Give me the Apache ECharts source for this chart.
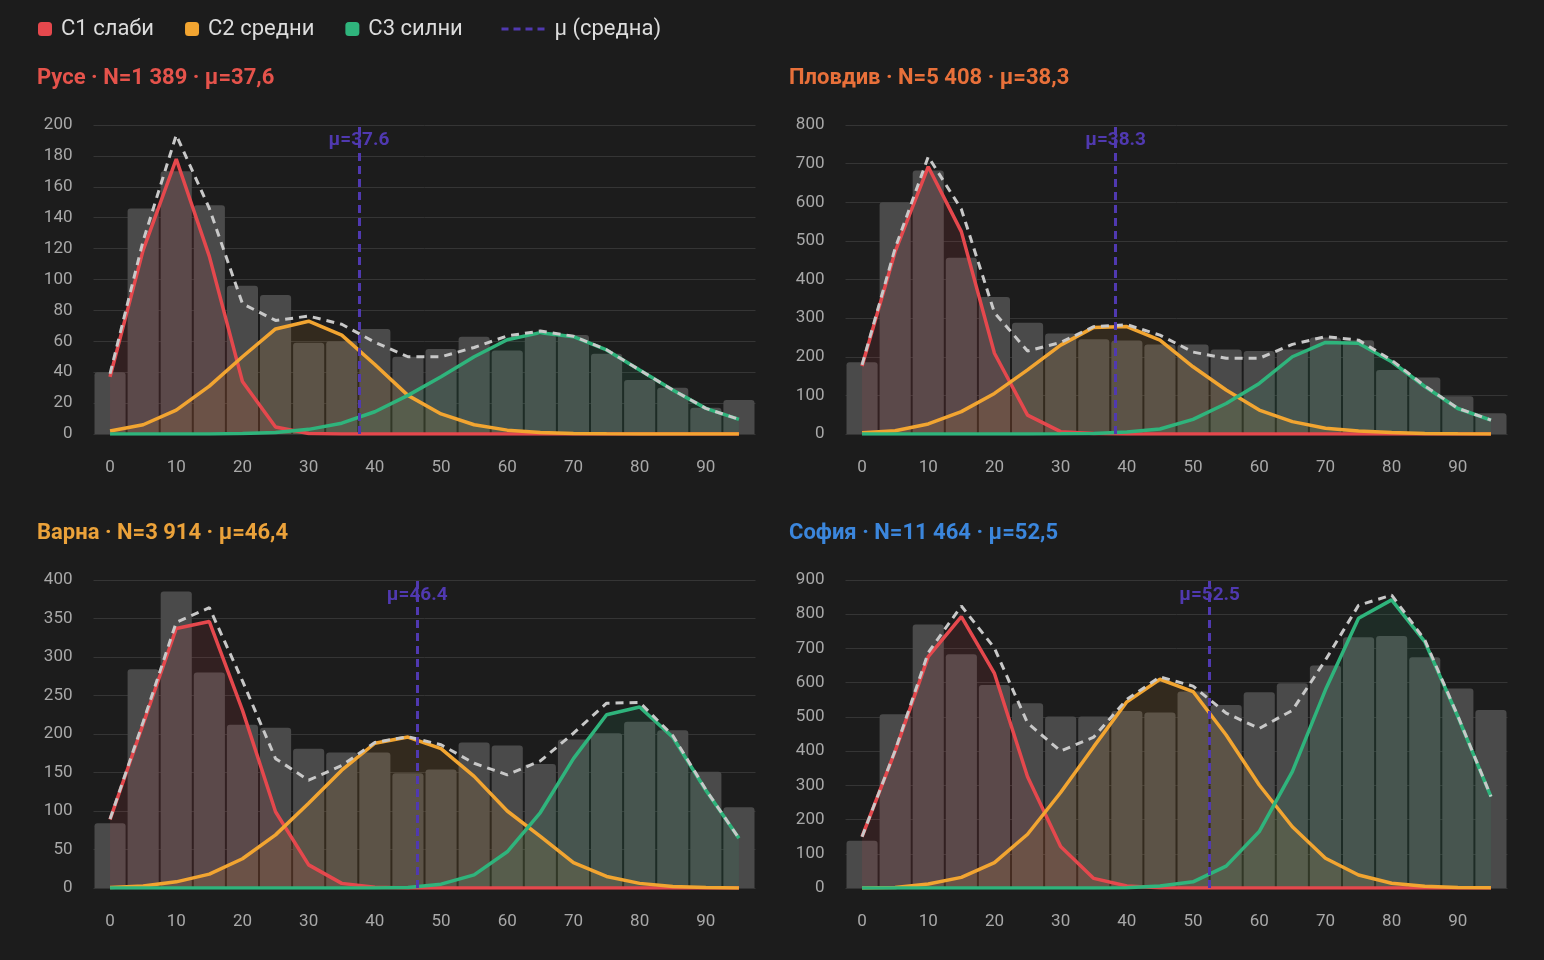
<!DOCTYPE html>
<html>
<head>
<meta charset="utf-8">
<script src="https://cdn.jsdelivr.net/npm/echarts@6/dist/echarts.min.js"></script>
<style>
  html, body { margin: 0; padding: 0; background: #1c1c1c; }
  #main { width: 1544px; height: 960px; }
</style>
</head>
<body>
<div id="main"></div>
<script>
// bins 0..95 step 5
var bins = ['0','5','10','15','20','25','30','35','40','45','50','55','60','65','70','75','80','85','90','95'];

// Русе
var ruseBars  = [40,146,170,148,96,90,59,60,68,50,55,63,54,64,64,52,35,30,17,22];
var ruseC1    = [37,119,178,115,34,4.5,0.3,0,0,0,0,0,0,0,0,0,0,0,0,0];
var ruseC2    = [2,6,15.5,31,50,68,73,64,45,25,13,6,2.5,1,0.3,0.1,0,0,0,0];
var ruseC3    = [0,0,0,0,0.3,1,3,7,14.4,25,37,50,61,65.6,63,54.4,41.4,28.5,16.6,9.5];
var ruseTotal = [39,125,193.5,146,84.3,73.5,76.3,71,59.4,50,50,56,63.5,66.6,63.3,54.5,41.4,28.5,16.6,9.5];

// Пловдив
var plovBars  = [186,600,682,456,355,288,260,245,242,232,232,219,215,219,250,243,166,146,98,54];
var plovC1    = [176,472,692,524,209,49,6,1,0,0,0,0,0,0,0,0,0,0,0,0];
var plovC2    = [3.4,8.6,26,58,105,166,230,276,278,243,174,114,62,32,15,8,4,1.5,0.5,0];
var plovC3    = [0,0,0,0,0,0,0.5,1.5,5,13,38,79,131,200,237,235,187,123,66,36];
var plovTotal = [179,481,718,582,314,215,237,278,283,256,212,196,196,232,252,243,191,124.5,66.5,36];

// Варна
var varnaBars  = [84,284,385,280,212,208,181,176,176,149,154,189,185,161,193,201,216,205,151,105];
var varnaC1    = [89,213,337,346,231,99,30,6,1,0,0,0,0,0,0,0,0,0,0,0];
var varnaC2    = [0.5,2.6,8,18,38,69,110,153,188,196,181,145,100,67,33,15,6,2,0.7,0];
var varnaC3    = [0,0,0,0,0,0,0,0,0,0.5,5,17,47,98,168,225,235,196,127,64.5];
var varnaTotal = [89.5,215.6,345,364,269,168,140,159,189,196.5,186,162,147,165,201,240,241,198,127.7,64.5];

// София
var sofiaBars  = [138,508,770,683,593,540,501,501,517,513,574,535,572,598,650,733,736,674,583,520];
var sofiaC1    = [150,400,676,793,627,325,121,28,6,1,0,0,0,0,0,0,0,0,0,0];
var sofiaC2    = [0,1.5,11.7,31,74,157,279,413,544,610,574,447,301,179,87,38,14,5,1.5,0.5];
var sofiaC3    = [0,0,0,0,0,0,0,0,1,6,18,64,165,340,579,788,842,720,501,267];
var sofiaTotal = [150,401.5,688,824,701,482,400,441,551,617,590,511,466,519,666,826,856,725,502.5,267.5];

var panels = [
  {name: 'Русе · N=1 389 · μ=37,6',    color: '#e5534b', mu: 37.6, yMax: 200, yStep: 20,  bars: ruseBars,  c1: ruseC1,  c2: ruseC2,  c3: ruseC3,  total: ruseTotal},
  {name: 'Пловдив · N=5 408 · μ=38,3', color: '#e8703a', mu: 38.3, yMax: 800, yStep: 100, bars: plovBars,  c1: plovC1,  c2: plovC2,  c3: plovC3,  total: plovTotal},
  {name: 'Варна · N=3 914 · μ=46,4',   color: '#eba23a', mu: 46.4, yMax: 400, yStep: 50,  bars: varnaBars, c1: varnaC1, c2: varnaC2, c3: varnaC3, total: varnaTotal},
  {name: 'София · N=11 464 · μ=52,5',  color: '#3b86dc', mu: 52.5, yMax: 900, yStep: 100, bars: sofiaBars, c1: sofiaC1, c2: sofiaC2, c3: sofiaC3, total: sofiaTotal}
];

var comps = [
  {name: 'C1 слаби',  key: 'c1', color: '#e5484d', area: 'rgba(229,72,77,0.16)'},
  {name: 'C2 средни', key: 'c2', color: '#f2a531', area: 'rgba(242,165,49,0.15)'},
  {name: 'C3 силни',  key: 'c3', color: '#2fb47c', area: 'rgba(47,180,124,0.15)'}
];
var muColor = '#5039b0';
var font = 'Roboto';

var chart = echarts.init(document.getElementById('main'));
var option = {
  backgroundColor: '#1c1c1c',
  animation: false,
  textStyle: {fontFamily: font},
  title: [],
  legend: [
    {
      left: 33, top: 13,
      itemWidth: 14, itemHeight: 14, itemGap: 31,
      data: comps.map(function(c) { return {name: c.name, icon: 'roundRect'}; }),
      textStyle: {color: '#dcdcdc', fontSize: 22, fontFamily: font, padding: [0, 0, 0, 4]}
    },
    {
      left: 495, top: 13,
      itemWidth: 44, itemHeight: 14,
      data: [{name: 'μ (средна)', itemStyle: {opacity: 0}, lineStyle: {width: 3, type: [7, 5], color: muColor}}],
      textStyle: {color: '#dcdcdc', fontSize: 22, fontFamily: font, padding: [0, 0, 0, 4]}
    }
  ],
  grid: [], xAxis: [], yAxis: [], series: []
};

panels.forEach(function(p, g) {
  var left = g % 2 ? 845.5 : 93.5;
  var top = g < 2 ? 125 : 580;
  option.title.push({
    text: p.name, left: left - 56.5, top: top - 58, padding: 0,
    textStyle: {color: p.color, fontSize: 22, fontWeight: 'bold', fontFamily: font}
  });
  option.grid.push({left: left, top: top, width: 662, height: g < 2 ? 309 : 308});
  option.xAxis.push({
    type: 'category', gridIndex: g, data: bins,
    axisLine: {show: false}, axisTick: {show: false},
    axisLabel: {interval: 1, color: '#a8a8a8', fontSize: 17, margin: 25, fontFamily: font},
    splitLine: {show: false}
  });
  option.yAxis.push({
    type: 'value', gridIndex: g, min: 0, max: p.yMax, interval: p.yStep,
    axisLine: {show: false},
    axisTick: {show: true, length: 13, lineStyle: {color: '#353535'}},
    axisLabel: {color: '#a8a8a8', fontSize: 17, margin: 21, fontFamily: font},
    splitLine: {lineStyle: {color: '#353535', width: 1}}
  });

  option.series.push({
    type: 'bar', name: 'hist', xAxisIndex: g, yAxisIndex: g, data: p.bars,
    barCategoryGap: '6%', silent: true, z: 1,
    itemStyle: {color: '#4a4a4a', borderRadius: [3, 3, 0, 0]}
  });
  comps.forEach(function(c) {
    option.series.push({
      type: 'line', name: c.name, xAxisIndex: g, yAxisIndex: g, data: p[c.key],
      symbol: 'none', z: 2,
      itemStyle: {color: c.color},
      lineStyle: {color: c.color, width: 3.5},
      areaStyle: {color: c.area}
    });
  });
  option.series.push({
    type: 'line', name: 'total', xAxisIndex: g, yAxisIndex: g, data: p.total,
    symbol: 'none', z: 3,
    lineStyle: {color: '#c8c8c8', width: 3, type: [8, 6]}
  });
});

// hidden value x-axes for the mean markers
panels.forEach(function(p, g) {
  option.xAxis.push({type: 'value', gridIndex: g, min: -2.5, max: 97.5, show: false});
  option.series.push({
    type: 'line', name: 'μ (средна)', xAxisIndex: 4 + g, yAxisIndex: g,
    data: [[p.mu, 0]], symbol: 'none', z: 4,
    itemStyle: {color: muColor},
    lineStyle: {color: muColor, width: 3, type: [7, 5]},
    markLine: {
      silent: true, symbol: ['none', 'none'],
      data: [{xAxis: p.mu}],
      lineStyle: {color: muColor, width: 3, type: [8, 5]},
      label: {show: false}
    },
    markPoint: {
      silent: true, symbol: 'circle', symbolSize: 0,
      data: [{coord: [p.mu, p.yMax]}],
      label: {
        show: true, position: 'inside', offset: [0, 15],
        formatter: 'μ=' + p.mu.toFixed(1),
        color: muColor, fontSize: 19, fontWeight: 'bold', fontFamily: font
      }
    }
  });
});

chart.setOption(option);
</script>
</body>
</html>
